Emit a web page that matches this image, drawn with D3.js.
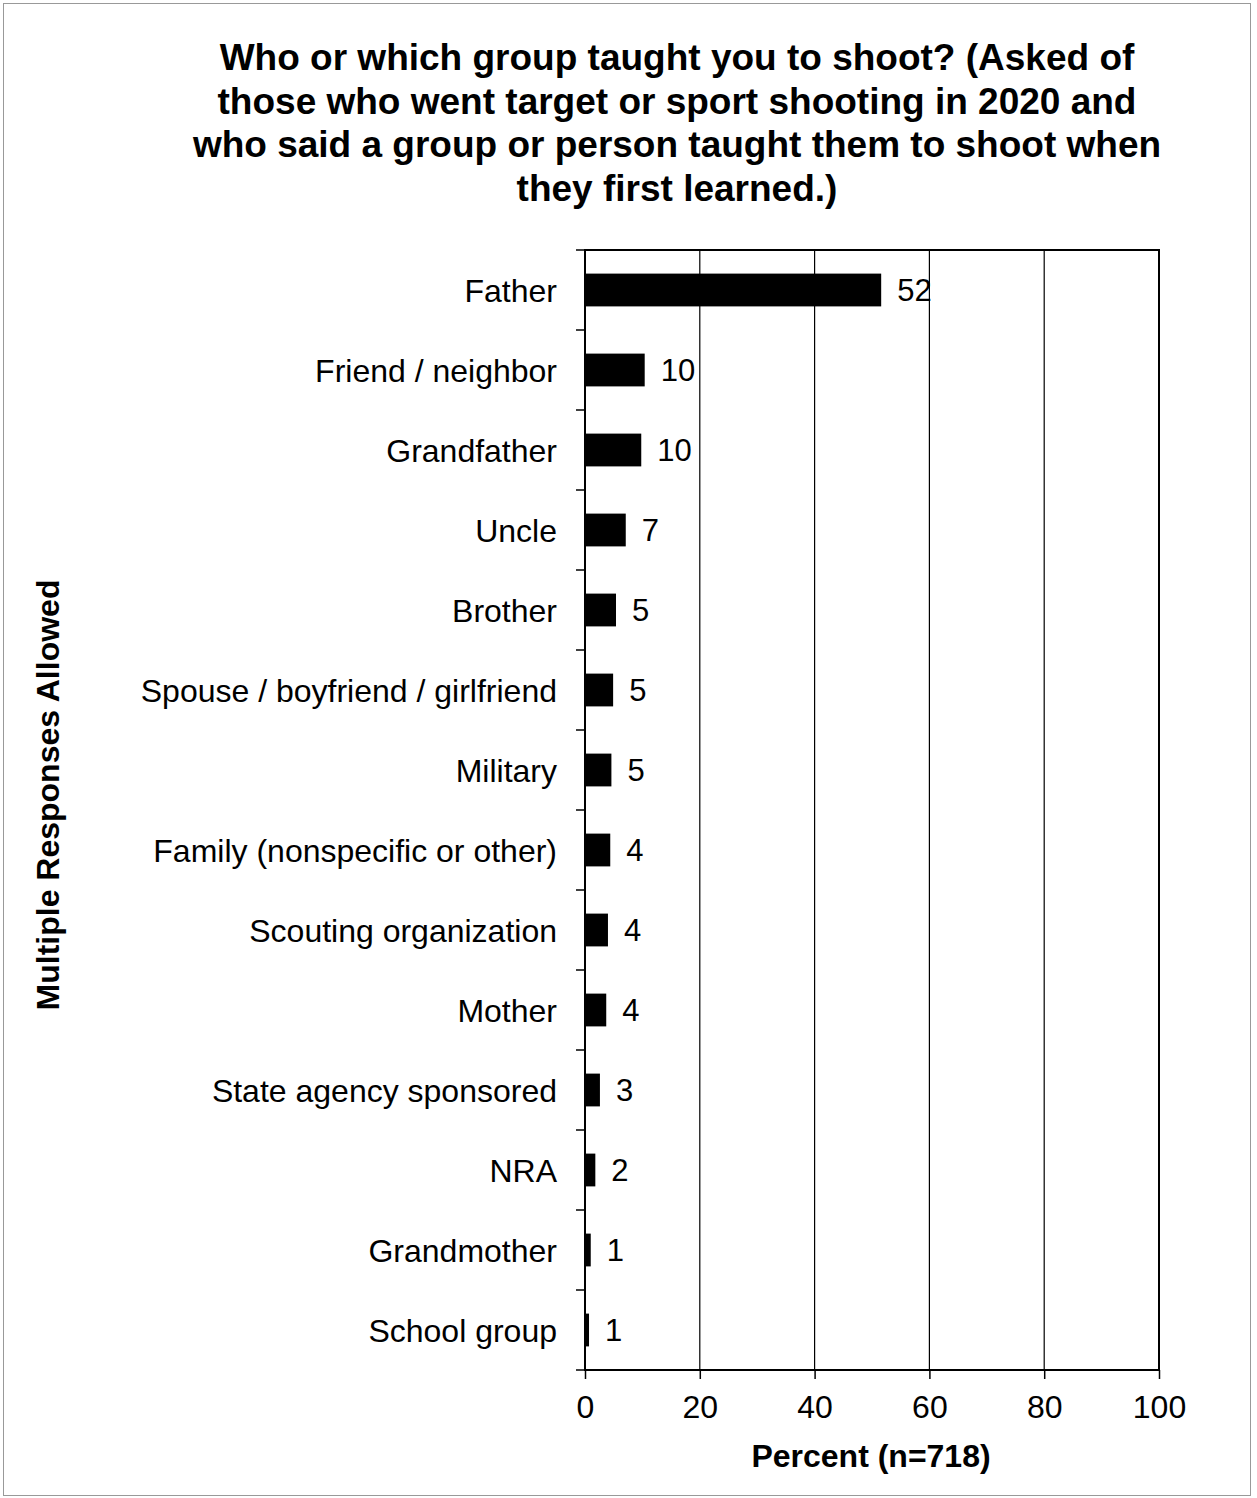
<!DOCTYPE html>
<html><head><meta charset="utf-8">
<script src="https://cdn.jsdelivr.net/npm/d3@7"></script>
<style>body{margin:0;background:#fff;} svg{display:block;font-family:"Liberation Sans",Arial,sans-serif;}</style>
</head><body>
<script>
const categories = ["Father","Friend / neighbor","Grandfather","Uncle","Brother","Spouse / boyfriend / girlfriend","Military","Family (nonspecific or other)","Scouting organization","Mother","State agency sponsored","NRA","Grandmother","School group"];
const values = [51.6,10.4,9.8,7.1,5.4,4.9,4.6,4.4,4.0,3.7,2.6,1.8,1.0,0.7];
const valueLabels = ["52","10","10","7","5","5","5","4","4","4","3","2","1","1"];
const xTicks = [0,20,40,60,80,100];
const titleLines = ["Who or which group taught you to shoot? (Asked of","those who went target or sport shooting in 2020 and","who said a group or person taught them to shoot when","they first learned.)"];

const W=1257,H=1498;
const svg=d3.select("body").append("svg").attr("width",W).attr("height",H);
svg.append("rect").attr("x",3.5).attr("y",3.5).attr("width",1247).attr("height",1492).attr("fill","none").attr("stroke","#999").attr("stroke-width",1);

const L=585,R=1159,T=250,B=1370;
const x=d3.scaleLinear().domain([0,100]).range([L,R]);
const y=d3.scaleBand().domain(categories).range([T,B]).paddingInner(0.59).paddingOuter(0.295);
const yb=d3.scaleBand().domain(categories).range([T,B]);

// title
svg.append("g").selectAll("text").data(titleLines).join("text")
 .attr("x",677).attr("y",(d,i)=>70+i*43.5).attr("text-anchor","middle")
 .attr("font-size",37).attr("font-weight","bold").attr("fill","#000").text(d=>d);

// gridlines
svg.append("g").selectAll("line").data(xTicks.slice(1,-1)).join("line")
 .attr("x1",d=>x(d)).attr("x2",d=>x(d)).attr("y1",T).attr("y2",B)
 .attr("stroke","#000").attr("stroke-width",1.2);

// bars
svg.append("g").selectAll("rect").data(values).join("rect")
 .attr("x",x(0)).attr("y",(d,i)=>y(categories[i])).attr("width",d=>x(d)-x(0)).attr("height",y.bandwidth())
 .attr("fill","#000");

// value labels
svg.append("g").selectAll("text").data(values).join("text")
 .attr("x",d=>x(d)+16).attr("y",(d,i)=>y(categories[i])+y.bandwidth()/2).attr("dy","0.36em")
 .attr("font-size",31).attr("fill","#000").text((d,i)=>valueLabels[i]);

// frame
svg.append("rect").attr("x",L).attr("y",T).attr("width",R-L).attr("height",B-T).attr("fill","none").attr("stroke","#000").attr("stroke-width",2);

// x axis
const xa=svg.append("g").attr("transform",`translate(0,${B})`).call(d3.axisBottom(x).tickValues(xTicks).tickSize(9).tickPadding(16));
xa.select(".domain").remove();
xa.selectAll("line").attr("stroke","#000").attr("stroke-width",1.5);
xa.selectAll("text").attr("font-size",32).attr("fill","#000").attr("font-family","Liberation Sans, Arial, sans-serif");

// y ticks at band boundaries
const bounds=categories.map(c=>yb(c)).concat([B]);
svg.append("g").selectAll("line").data(bounds).join("line")
 .attr("x1",L-9).attr("x2",L).attr("y1",d=>d).attr("y2",d=>d).attr("stroke","#000").attr("stroke-width",1.5);

// category labels
svg.append("g").selectAll("text").data(categories).join("text")
 .attr("x",L-28).attr("y",d=>yb(d)+yb.bandwidth()/2).attr("dy","0.36em").attr("text-anchor","end")
 .attr("font-size",32).attr("fill","#000").text(d=>d);

// axis titles
svg.append("text").attr("x",871).attr("y",1467).attr("text-anchor","middle").attr("font-size",32).attr("font-weight","bold").text("Percent (n=718)");
svg.append("text").attr("transform","translate(59,795) rotate(-90)").attr("text-anchor","middle").attr("font-size",32).attr("font-weight","bold").text("Multiple Responses Allowed");
</script>
</body></html>
